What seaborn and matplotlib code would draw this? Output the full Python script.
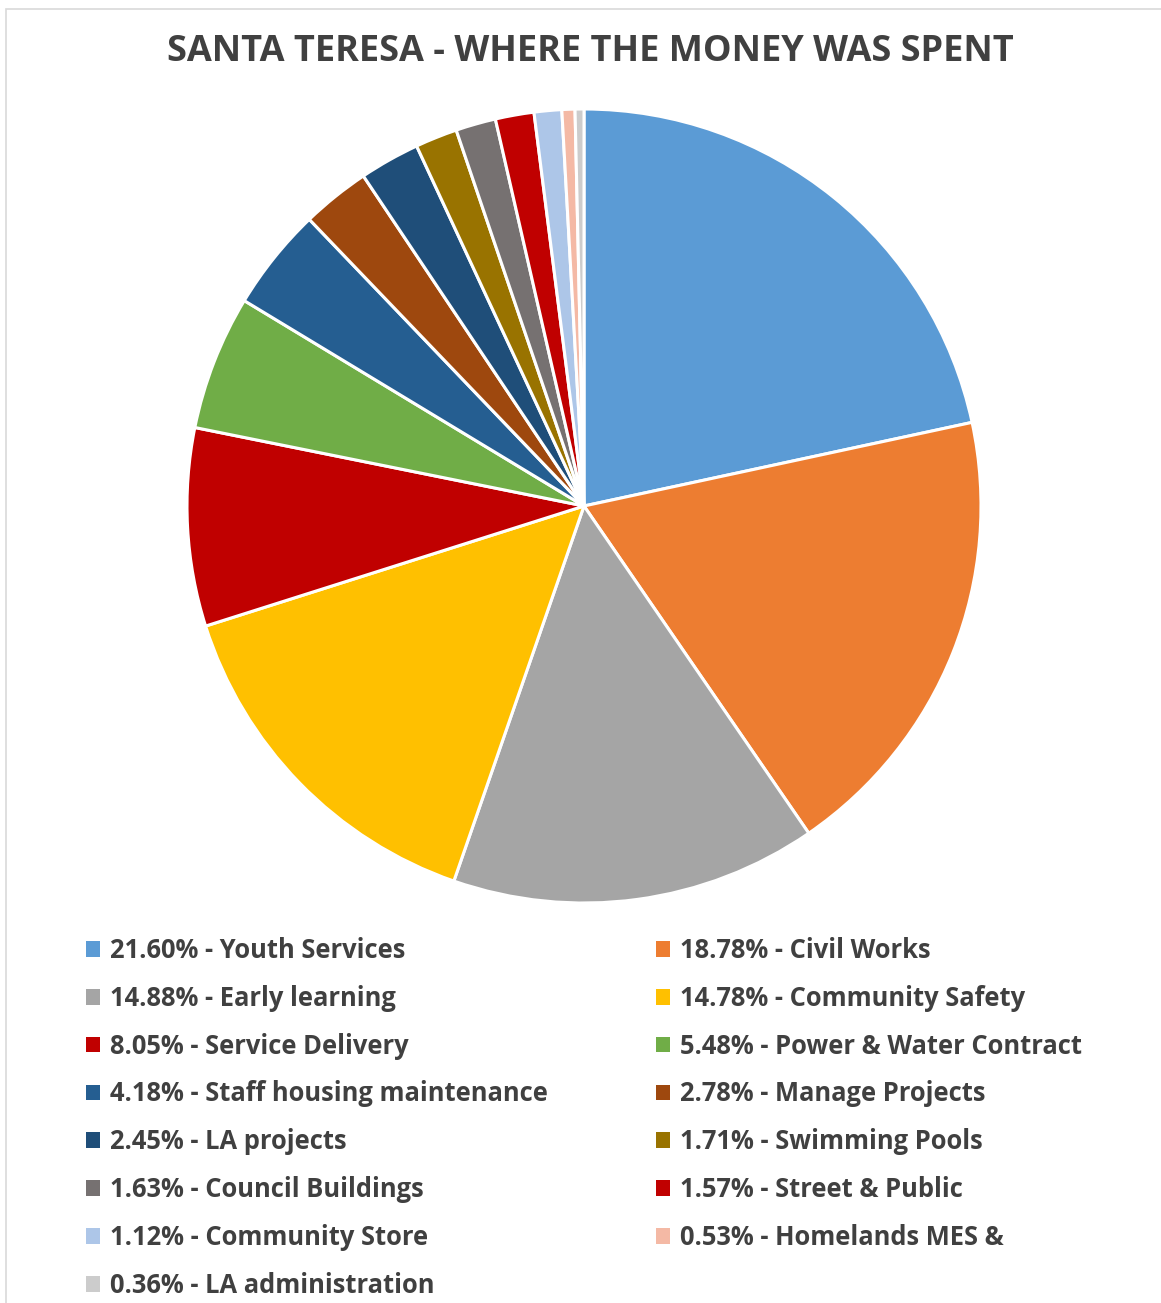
import matplotlib
matplotlib.use("Agg")
import matplotlib.pyplot as plt
from matplotlib.patches import Rectangle
import seaborn as sns

sns.set_theme(style="white")
FONT = ["Open Sans", "DejaVu Sans"]
plt.rcParams["font.family"] = FONT

# Spending breakdown, in pie order (clockwise from 12 o'clock)
categories = [
    "Youth Services", "Civil Works", "Early learning", "Community Safety",
    "Service Delivery", "Power & Water Contract", "Staff housing maintenance",
    "Manage Projects", "LA projects", "Swimming Pools", "Council Buildings",
    "Street & Public", "Community Store", "Homelands MES &", "LA administration",
]
shares = [21.60, 18.78, 14.88, 14.78, 8.05, 5.48, 4.18, 2.78, 2.45, 1.71,
          1.63, 1.57, 1.12, 0.53, 0.36]
colors = [
    "#5B9BD5", "#ED7D31", "#A5A5A5", "#FFC000", "#C00000", "#70AD47",
    "#255E91", "#9E480E", "#1F4E79", "#997300", "#767171", "#C00000",
    "#ADC6E8", "#F4B9A5", "#CCCCCC",
]
legend_labels = [f"{v:.2f}% - {c}" for v, c in zip(shares, categories)]

W, H = 1161, 1303
fig = plt.figure(figsize=(W / 100, H / 100), dpi=100)
fig.patch.set_facecolor("white")

# chart-area frame
fig.add_artist(Rectangle((6 / W, -0.01), 1.1, (H - 9) / H + 0.01,
                         transform=fig.transFigure, fill=False,
                         edgecolor="#D9D9D9", linewidth=1.2))

cx, cy, r = 584, 506, 397
ax = fig.add_axes([(cx - r) / W, (H - cy - r) / H, 2 * r / W, 2 * r / H])
wedges, _ = ax.pie(shares, colors=colors, startangle=90, counterclock=False,
                   radius=1.0,
                   wedgeprops=dict(edgecolor="white", linewidth=2.2,
                                   clip_on=False))
ax.set_xlim(-1, 1)
ax.set_ylim(-1, 1)
ax.set_aspect("equal")
ax.axis("off")

fig.text(590 / W, 1 - 52 / H, "SANTA TERESA - WHERE THE MONEY WAS SPENT",
         ha="center", va="center", fontsize=26, fontweight="bold",
         color="#404040", family=FONT)

# Legend laid out row-wise in two columns
left_idx = list(range(0, len(shares), 2))
right_idx = list(range(1, len(shares), 2))
legend_kw = dict(frameon=False, handlelength=0.56, handleheight=0.56,
                 handletextpad=0.38, labelspacing=0.815, borderpad=0,
                 borderaxespad=0, labelcolor="#404040",
                 prop=dict(family=FONT, weight="bold", size=18.4))
for idx, x0 in ((left_idx, 86), (right_idx, 656)):
    lg = fig.legend([wedges[i] for i in idx], [legend_labels[i] for i in idx],
                    loc="upper left", bbox_to_anchor=(x0 / W, 1 - 937 / H),
                    **legend_kw)
    for h in lg.legend_handles:
        h.set_edgecolor("none")

fig.savefig("out.png", dpi=100, facecolor="white")
